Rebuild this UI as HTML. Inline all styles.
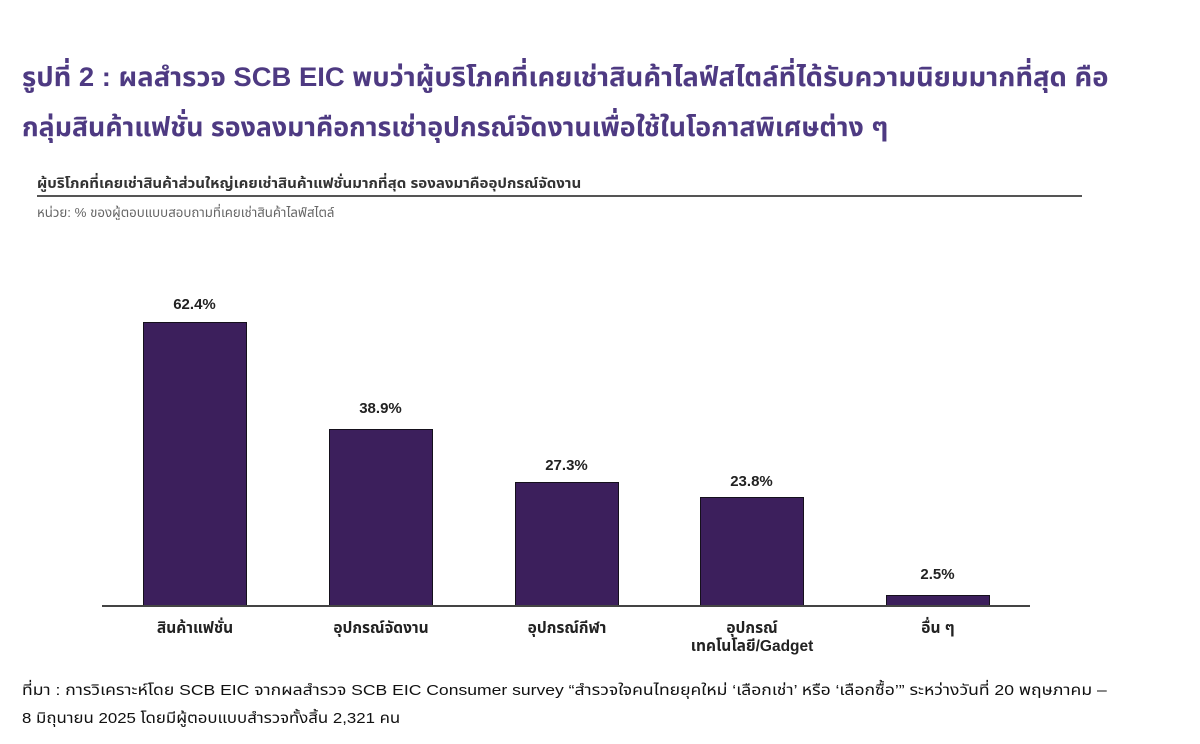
<!DOCTYPE html>
<html>
<head>
<meta charset="utf-8">
<style>
  html, body { margin:0; padding:0; background:#fff; }
  body { width:1200px; height:744px; position:relative; overflow:hidden;
         font-family:"Liberation Sans","Noto Sans Thai","DejaVu Sans","Noto Sans CJK SC",sans-serif; }
  .abs { position:absolute; white-space:nowrap; transform-origin:0 50%; }
  .title { left:22px; font-size:27px; font-weight:bold; color:#4e3a82; line-height:30px; }
  .sub { left:37px; top:173px; font-size:14.5px; font-weight:bold; color:#333; transform:scaleX(1.04); }
  .unit { left:37px; top:203px; font-size:13px; color:#666; transform:scaleX(1.02); }
  .rule { position:absolute; left:37px; top:195px; width:1045px; height:2px; background:#555; }
  .bar { position:absolute; background:#3c1f5c; border:1px solid #15101c; box-sizing:border-box; }
  .val { position:absolute; width:103px; text-align:center; font-size:15px; color:#222; font-weight:bold; }
  .cat { position:absolute; width:180px; text-align:center; font-size:15.5px; color:#222; font-weight:bold; line-height:18px; }
  .axis { position:absolute; left:102px; top:605px; width:928px; height:2px; background:#444; }
  .foot { left:22px; font-size:15px; color:#111; }
</style>
</head>
<body>
  <div class="abs title" style="top:62px; transform:scaleX(1.016);">รูปที่ 2 : ผลสำรวจ SCB EIC พบว่าผู้บริโภคที่เคยเช่าสินค้าไลฟ์สไตล์ที่ได้รับความนิยมมากที่สุด คือ</div>
  <div class="abs title" style="top:112px; transform:scaleX(0.99);">กลุ่มสินค้าแฟชั่น รองลงมาคือการเช่าอุปกรณ์จัดงานเพื่อใช้ในโอกาสพิเศษต่าง ๆ</div>

  <div class="abs sub">ผู้บริโภคที่เคยเช่าสินค้าส่วนใหญ่เคยเช่าสินค้าแฟชั่นมากที่สุด รองลงมาคืออุปกรณ์จัดงาน</div>
  <div class="rule"></div>
  <div class="abs unit">หน่วย: % ของผู้ตอบแบบสอบถามที่เคยเช่าสินค้าไลฟ์สไตล์</div>

  <!-- bars -->
  <div class="bar" style="left:143px; top:322px; width:104px; height:285px;"></div>
  <div class="bar" style="left:329px; top:429px; width:104px; height:178px;"></div>
  <div class="bar" style="left:515px; top:482px; width:104px; height:125px;"></div>
  <div class="bar" style="left:700px; top:497px; width:104px; height:110px;"></div>
  <div class="bar" style="left:886px; top:595px; width:104px; height:12px;"></div>
  <div class="axis"></div>

  <!-- values -->
  <div class="val" style="left:143px; top:296px;">62.4%</div>
  <div class="val" style="left:329px; top:400px;">38.9%</div>
  <div class="val" style="left:515px; top:457px;">27.3%</div>
  <div class="val" style="left:700px; top:473px;">23.8%</div>
  <div class="val" style="left:886px; top:566px;">2.5%</div>

  <!-- categories -->
  <div class="cat" style="left:105px; top:620px;">สินค้าแฟชั่น</div>
  <div class="cat" style="left:291px; top:620px;">อุปกรณ์จัดงาน</div>
  <div class="cat" style="left:477px; top:620px;">อุปกรณ์กีฬา</div>
  <div class="cat" style="left:662px; top:620px;">อุปกรณ์<br>เทคโนโลยี/Gadget</div>
  <div class="cat" style="left:848px; top:620px;">อื่น ๆ</div>

  <div class="abs foot" style="top:679px; transform:scaleX(1.17);">ที่มา : การวิเคราะห์โดย SCB EIC จากผลสำรวจ SCB EIC Consumer survey “สำรวจใจคนไทยยุคใหม่ ‘เลือกเช่า’ หรือ ‘เลือกซื้อ’” ระหว่างวันที่ 20 พฤษภาคม –</div>
  <div class="abs foot" style="top:707px; transform:scaleX(1.12);">8 มิถุนายน 2025 โดยมีผู้ตอบแบบสำรวจทั้งสิ้น 2,321 คน</div>
</body>
</html>
